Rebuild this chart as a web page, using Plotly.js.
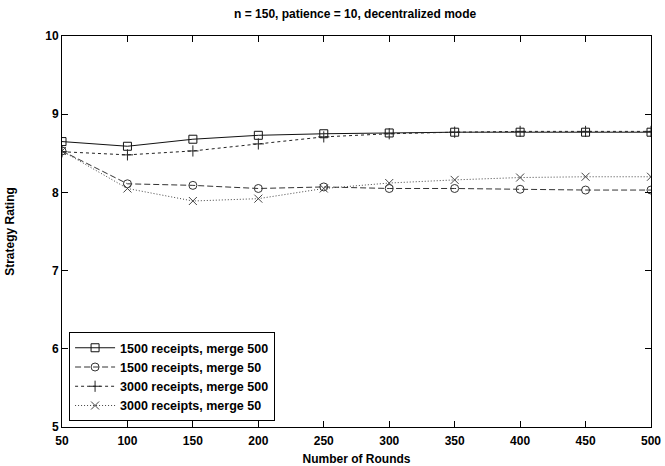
<!DOCTYPE html>
<html>
<head>
<meta charset="utf-8">
<script src="https://cdn.plot.ly/plotly-3.0.1.min.js"></script>
<style>html,body{margin:0;padding:0;background:#fff;}#chart{width:665px;height:466px;}</style>
</head>
<body>
<div id="chart"></div>
<script>
var rounds = [50, 100, 150, 200, 250, 300, 350, 400, 450, 500];
var r1500m500 = [8.65, 8.59, 8.68, 8.73, 8.75, 8.76, 8.77, 8.77, 8.77, 8.77];
var r1500m50  = [8.53, 8.11, 8.09, 8.05, 8.07, 8.05, 8.05, 8.04, 8.03, 8.03];
var r3000m500 = [8.52, 8.48, 8.53, 8.62, 8.71, 8.75, 8.77, 8.78, 8.78, 8.78];
var r3000m50  = [8.53, 8.05, 7.89, 7.92, 8.05, 8.12, 8.16, 8.19, 8.20, 8.20];
var names = ["1500 receipts, merge 500", "1500 receipts, merge 50", "3000 receipts, merge 500", "3000 receipts, merge 50"];

var font = {family: "Liberation Sans, Arial, sans-serif", size: 12, color: "#000", weight: "bold"};
function tr(y, name, dash, sym, col) {
  return {x: rounds, y: y, name: name, type: "scatter", mode: "lines+markers",
    line: {color: col, width: 1, dash: dash},
    marker: {symbol: sym, size: 8, color: col, line: {color: col, width: 1}}};
}
var data = [
  tr(r1500m500, names[0], "solid", "square-open", "#111"),
  tr(r1500m50, names[1], "6px,3px", "circle-open", "#333"),
  tr(r3000m500, names[2], "3px,3px", "cross-thin-open", "#222"),
  tr(r3000m50, names[3], "1px,2px", "x-thin-open", "#444")
];
var layout = {
  width: 665, height: 466,
  margin: {l: 62, r: 14, t: 36, b: 39},
  paper_bgcolor: "#fff", plot_bgcolor: "#fff",
  font: font,
  title: {text: "n = 150, patience = 10, decentralized mode", x: 0.534, xanchor: "center", y: 0.97, yanchor: "middle", font: {family: font.family, size: 12, color: "#000", weight: "bold"}},
  xaxis: {range: [50, 500], tickmode: "array", tickvals: rounds, ticks: "inside", ticklen: 6, tickcolor: "#000",
    showline: true, linecolor: "#000", linewidth: 1, mirror: "ticks", showgrid: false, zeroline: false,
    ticklabelstandoff: 3,
    tickfont: font, title: {text: "Number of Rounds", font: font, standoff: 9}},
  yaxis: {range: [5, 10], tickmode: "array", tickvals: [5, 6, 7, 8, 9, 10], ticks: "inside", ticklen: 6, tickcolor: "#000",
    showline: true, linecolor: "#000", linewidth: 1, mirror: "ticks", showgrid: false, zeroline: false,
    tickfont: font, title: {text: "Strategy Rating", font: font, standoff: 28}},
  showlegend: true,
  legend: {x: 0.012, y: 0.015, xanchor: "left", yanchor: "bottom", bgcolor: "#fff", bordercolor: "#000", borderwidth: 1,
    font: {family: font.family, size: 12.5, color: "#000", weight: "bold"}, tracegroupgap: 0, itemwidth: 40}
};
Plotly.newPlot("chart", data, layout, {displayModeBar: false});
</script>
</body>
</html>
